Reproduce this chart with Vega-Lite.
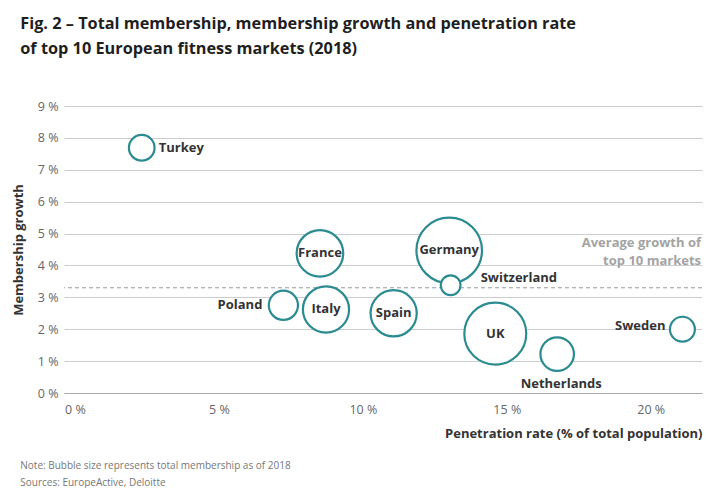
{
  "$schema": "https://vega.github.io/schema/vega-lite/v6.json",
  "padding": {"left": 12, "top": 15, "right": 4, "bottom": 0},
  "background": "white",
  "title": {
    "text": ["Fig. 2 – Total membership, membership growth and penetration rate", "of top 10 European fitness markets (2018)"],
    "anchor": "start",
    "font": "Open Sans",
    "fontSize": 16.3,
    "fontWeight": "bold",
    "color": "#1f1f1f",
    "lineHeight": 25,
    "offset": 43,
    "dx": 8
  },
  "config": {
    "view": {"stroke": null},
    "font": "Open Sans"
  },
  "vconcat": [
    {
      "width": 638,
      "height": 287,
      "title": {
        "text": ["Note: Bubble size represents total membership as of 2018", "Sources: EuropeActive, Deloitte"],
        "orient": "bottom",
        "anchor": "start",
        "font": "Open Sans",
        "fontSize": 10,
        "fontWeight": "normal",
        "color": "#777777",
        "lineHeight": 17,
        "offset": 20,
        "dx": 8
      },
      "data": {
        "values": [
          {"country": "Turkey", "penetration": 2.32, "growth": 7.69, "members": 1.7},
          {"country": "France", "penetration": 8.51, "growth": 4.38, "members": 5.6},
          {"country": "Germany", "penetration": 13.0, "growth": 4.47, "members": 11.1},
          {"country": "Switzerland", "penetration": 13.05, "growth": 3.38, "members": 1.0},
          {"country": "Poland", "penetration": 7.24, "growth": 2.75, "members": 2.2},
          {"country": "Italy", "penetration": 8.72, "growth": 2.62, "members": 5.5},
          {"country": "Spain", "penetration": 11.07, "growth": 2.5, "members": 5.5},
          {"country": "UK", "penetration": 14.6, "growth": 1.86, "members": 9.9},
          {"country": "Netherlands", "penetration": 16.75, "growth": 1.22, "members": 2.9},
          {"country": "Sweden", "penetration": 21.1, "growth": 2.0, "members": 1.6}
        ]
      },
      "encoding": {
        "x": {
          "field": "penetration",
          "type": "quantitative",
          "scale": {"domain": [-0.38, 21.78], "nice": false, "zero": false},
          "axis": {
            "values": [0, 5, 10, 15, 20],
            "labelExpr": "datum.value + ' %'",
            "title": "Penetration rate (% of total population)",
            "titleAnchor": "end",
            "titleFont": "Open Sans",
            "titleFontSize": 13,
            "titleFontWeight": "bold",
            "titleColor": "#333333",
            "titlePadding": 12,
            "labelFont": "Open Sans",
            "labelFontSize": 12.5,
            "labelColor": "#666666",
            "labelPadding": 10,
            "ticks": false,
            "domain": true,
            "domainColor": "#aaaaaa",
            "grid": false
          }
        },
        "y": {
          "field": "growth",
          "type": "quantitative",
          "scale": {"domain": [0, 9], "nice": false},
          "axis": {
            "values": [0, 1, 2, 3, 4, 5, 6, 7, 8, 9],
            "labelExpr": "datum.value + ' %'",
            "title": "Membership growth",
            "titleFont": "Open Sans",
            "titleFontSize": 13,
            "titleFontWeight": "bold",
            "titleColor": "#333333",
            "titlePadding": 12,
            "labelFont": "Open Sans",
            "labelFontSize": 12.5,
            "labelColor": "#666666",
            "labelPadding": 6,
            "ticks": false,
            "domain": false,
            "grid": true,
            "gridColor": "#cccccc",
            "gridWidth": 1
          }
        }
      },
      "layer": [
        {
          "data": {"values": [{"average": 3.3, "label": "Average growth of top 10 markets", "xend": 21.78}]},
          "mark": {"type": "rule", "color": "#999999", "strokeDash": [4, 3], "strokeWidth": 1},
          "encoding": {"x": null, "y": {"field": "average", "type": "quantitative"}}
        },
        {
          "data": {"values": [{"average": 3.3, "xend": 21.78}]},
          "mark": {"type": "text", "align": "right", "baseline": "bottom", "fontSize": 13, "fontWeight": "bold", "color": "#a3a3a3", "lineHeight": 18, "dy": -38, "dx": -1},
          "encoding": {"x": {"field": "xend", "type": "quantitative"}, "y": {"field": "average", "type": "quantitative"}, "text": {"value": ["Average growth of", "top 10 markets"]}}
        },
        {
          "mark": {"type": "circle", "fill": "white", "fillOpacity": 1, "stroke": "#2b8b91", "strokeWidth": 2.2, "opacity": 1},
          "encoding": {
            "size": {"field": "members", "type": "quantitative", "scale": {"type": "linear", "domain": [0, 11.1], "range": [0, 4301]}, "legend": null}
          }
        },
        {
          "transform": [{"filter": "indexof(['France','Germany','Italy','Spain','UK'], datum.country) >= 0"}],
          "mark": {"type": "text", "align": "center", "baseline": "middle", "fontSize": 13, "fontWeight": "bold", "color": "#333333"},
          "encoding": {"text": {"field": "country"}}
        },
        {
          "transform": [{"filter": "datum.country == 'Turkey'"}],
          "mark": {"type": "text", "align": "left", "baseline": "middle", "fontSize": 13, "fontWeight": "bold", "color": "#333333", "dx": 17},
          "encoding": {"text": {"field": "country"}}
        },
        {
          "transform": [{"filter": "datum.country == 'Switzerland'"}],
          "mark": {"type": "text", "align": "left", "baseline": "middle", "fontSize": 13, "fontWeight": "bold", "color": "#333333", "dx": 30, "dy": -7},
          "encoding": {"text": {"field": "country"}}
        },
        {
          "transform": [{"filter": "datum.country == 'Poland'"}],
          "mark": {"type": "text", "align": "right", "baseline": "middle", "fontSize": 13, "fontWeight": "bold", "color": "#333333", "dx": -21},
          "encoding": {"text": {"field": "country"}}
        },
        {
          "transform": [{"filter": "datum.country == 'Sweden'"}],
          "mark": {"type": "text", "align": "right", "baseline": "middle", "fontSize": 13, "fontWeight": "bold", "color": "#333333", "dx": -17, "dy": -3},
          "encoding": {"text": {"field": "country"}}
        },
        {
          "transform": [{"filter": "datum.country == 'Netherlands'"}],
          "mark": {"type": "text", "align": "center", "baseline": "middle", "fontSize": 13, "fontWeight": "bold", "color": "#333333", "dx": 4, "dy": 30},
          "encoding": {"text": {"field": "country"}}
        }
      ]
    }
  ]
}
